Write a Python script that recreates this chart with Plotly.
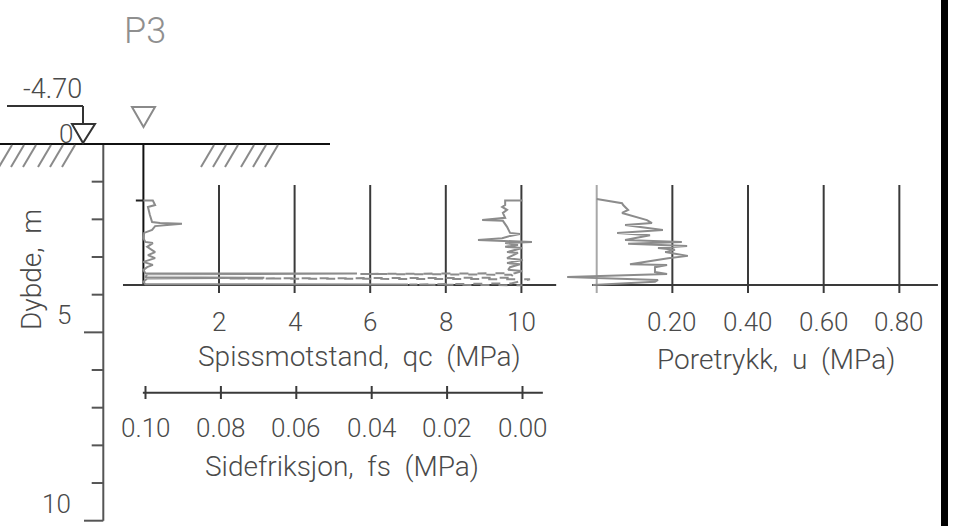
import plotly.graph_objects as go

W, H = 953, 526

# Cone resistance qc (MPa) against depth (m)
qc_depth = [1.50, 1.50, 1.62, 1.67, 1.88, 2.07, 2.10, 2.12, 2.18, 2.28, 2.36, 2.50, 2.60,
            2.63, 2.73, 2.87, 2.95, 3.03, 3.13, 3.21, 3.27, 3.34, 3.43, 3.44, 3.46, 3.54,
            3.55, 3.57, 3.66, 3.72, 3.73]
qc_value = [0.00, 0.25, 0.31, 0.12, 0.17, 0.23, 0.44, 1.02, 0.31, 0.23, 0.02, 0.00, 0.05,
            0.25, 0.10, 0.31, 0.12, 0.31, 0.00, 0.25, 0.10, 0.00, 0.05, 5.65, 0.10, 0.05,
            3.20, 0.10, 0.00, 0.05, 7.00]

# Sleeve friction fs (MPa), plotted on a reversed axis
fs_depth = [1.50, 1.50, 1.62, 1.67, 1.75, 1.83, 1.96, 2.02, 2.04, 2.20, 2.36, 2.39, 2.44,
            2.50, 2.55, 2.60, 2.63, 2.68, 2.73, 2.76, 2.87, 2.89, 3.03, 3.08, 3.16, 3.19,
            3.27, 3.34, 3.37]
fs_value = [0.0000, 0.0046, 0.0046, 0.0054, 0.0041, 0.0052, 0.0046, 0.0107, 0.0052, 0.0041,
            0.0033, 0.0007, 0.0033, 0.0054, 0.0118, -0.0025, 0.0046, 0.0012, 0.0046, 0.0001,
            0.0041, 0.0012, 0.0041, -0.0001, 0.0041, 0.0007, 0.0033, 0.0038, 0.0001]
# last part of the friction record (dashed)
fs_tail_depth = [3.37, 3.43, 3.45, 3.47, 3.55, 3.57, 3.59, 3.70, 3.73, 3.75]
fs_tail_value = [0.0001, 0.002, 0.043, 0.003, 0.002, 0.078, -0.002, 0.003, 0.030, 0.000]

# Pore pressure u (MPa)
u_depth = [1.46, 1.51, 1.57, 1.62, 1.75, 1.83, 1.96, 2.02, 2.10, 2.15, 2.28, 2.36, 2.42,
           2.55, 2.60, 2.65, 2.71, 2.76, 2.81, 2.87, 2.97, 3.03, 3.19, 3.21, 3.27, 3.40,
           3.45, 3.53, 3.56, 3.61, 3.66, 3.74]
u_value = [0.000, 0.030, 0.067, 0.070, 0.083, 0.067, 0.115, 0.133, 0.146, 0.075, 0.175,
           0.054, 0.141, 0.075, 0.225, 0.083, 0.239, 0.162, 0.207, 0.181, 0.241, 0.189,
           0.088, 0.186, 0.154, 0.154, 0.186, -0.078, 0.000, 0.162, 0.154, -0.010]

# Axis ticks and labels
qc_ticks = [2, 4, 6, 8, 10]
qc_labels = ["2", "4", "6", "8", "10"]
fs_ticks = [0.10, 0.08, 0.06, 0.04, 0.02, 0.00]
fs_labels = ["0.10", "0.08", "0.06", "0.04", "0.02", "0.00"]
u_ticks = [0.20, 0.40, 0.60, 0.80]
u_labels = ["0.20", "0.40", "0.60", "0.80"]
depth_ticks = list(range(1, 11))
depth_labels = {5: "5", 10: "10"}

title = "P3"
elevation = "-4.70"
end_depth = 3.74

qc_title = "Spissmotstand,  qc  (MPa)"
fs_title = "Sidefriksjon,  fs  (MPa)"
u_title = "Poretrykk,  u  (MPa)"
depth_title = "Dybde,  m"

# ---------------------------------------------------------------- styling
AX = "#3a3a3a"
DATA = "#8c8c8c"
TXT = "#4a4a4a"
num_font = dict(family="Roboto", size=26, color=TXT, weight=300)
lab_font = dict(family="Roboto", size=28, color=TXT, weight=300)

fig = go.Figure()

fig.add_trace(go.Scatter(x=qc_value, y=qc_depth, xaxis="x", yaxis="y", mode="lines",
                         line=dict(color=DATA, width=2), name="qc", hoverinfo="skip"))
fig.add_trace(go.Scatter(x=fs_value, y=fs_depth, xaxis="x3", yaxis="y", mode="lines",
                         line=dict(color=DATA, width=2), name="fs", hoverinfo="skip"))
fig.add_trace(go.Scatter(x=fs_tail_value, y=fs_tail_depth, xaxis="x3", yaxis="y", mode="lines",
                         line=dict(color=DATA, width=2, dash="dash"), name="fs",
                         hoverinfo="skip"))
fig.add_trace(go.Scatter(x=u_value, y=u_depth, xaxis="x2", yaxis="y", mode="lines",
                         line=dict(color=DATA, width=2), name="u", hoverinfo="skip"))

shapes = []
annotations = []


def seg(x0, y0, x1, y1, xref, yref, color=AX, width=2, dash="solid"):
    shapes.append(dict(type="line", x0=x0, y0=y0, x1=x1, y1=y1, xref=xref, yref=yref,
                       line=dict(color=color, width=width, dash=dash), layer="below"))


def text(x, y, s, xref, yref, font, xanchor="center", yanchor="middle", angle=0):
    annotations.append(dict(x=x, y=y, text=s, xref=xref, yref=yref, showarrow=False,
                            font=font, xanchor=xanchor, yanchor=yanchor, textangle=angle))


def spaced(s):
    return s.replace("  ", "&nbsp;&nbsp;")


# depth axis
seg(103.3, 0, 103.3, 10, "x4", "y", color="#555555")
for d in depth_ticks:
    seg(84 if d in depth_labels else 91.7, d, 103.3, d, "x4", "y", color="#555555")
    if d in depth_labels:
        text(73, d, depth_labels[d], "x4", "y", num_font, xanchor="right", yanchor="bottom")
text(31, 270, spaced(depth_title), "x4", "y4", lab_font, angle=-90)

# ground surface and hatching
seg(0, 0, 330, 0, "x4", "y", color="#111111", width=2)
for xt in [12, 24, 36, 51, 63, 75, 214, 226, 238, 254, 266, 278]:
    seg(xt, 145, xt - 13, 167, "x4", "y4", color="#8a8a8a", width=2)

# elevation marker
seg(7, 106, 83, 106, "x4", "y4", color="#333333", width=2)
seg(83, 106, 83, 124, "x4", "y4", color="#333333", width=2)
shapes.append(dict(type="path", path="M 72 124 L 95 124 L 83 143 Z", xref="x4", yref="y4",
                   line=dict(color="#333333", width=2), fillcolor="rgba(0,0,0,0)"))
text(52, 89, elevation, "x4", "y4", dict(num_font, size=27))
text(66, 134, "0", "x4", "y4", num_font)

# water level symbol above the sounding
shapes.append(dict(type="path", path="M 132 107 L 155 107 L 143.5 127 Z", xref="x4", yref="y4",
                   line=dict(color="#8a8a8a", width=2), fillcolor="rgba(0,0,0,0)"))
text(145, 31, title, "x4", "y4", dict(family="Roboto", size=36, color="#8f8f8f", weight=300))

# qc / fs panel frame
seg(0, 0, 0, end_depth, "x", "y", color="#111111", width=2)
seg(-0.2, qc_depth[0], 0, qc_depth[0], "x", "y", color="#222222", width=2)
seg(-0.54, end_depth, 10.92, end_depth, "x", "y")
for v, s in zip(qc_ticks, qc_labels):
    seg(v, 185, v, 293, "x", "y4")
    text(v, 322, s, "x", "y4", num_font)
text(359, 356, spaced(qc_title), "x4", "y4", lab_font)

seg(0.1007, 392.7, -0.0054, 392.7, "x3", "y4")
for v, s in zip(fs_ticks, fs_labels):
    seg(v, 386, v, 399, "x3", "y4")
    text(v, 428, s, "x3", "y4", num_font)
text(342, 466, spaced(fs_title), "x4", "y4", lab_font)

# pore pressure panel frame
seg(-0.012, end_depth, 0.902, end_depth, "x2", "y")
seg(0, 185, 0, 293, "x2", "y4", color="#a8a8a8")
for v, s in zip(u_ticks, u_labels):
    seg(v, 185, v, 293, "x2", "y4")
    text(v, 322, s, "x2", "y4", num_font)
text(776, 359, spaced(u_title), "x4", "y4", lab_font)

# sheet border on the right
shapes.append(dict(type="rect", x0=941, x1=948, y0=0, y1=H, xref="x4", yref="y4",
                   line=dict(width=0), fillcolor="#000000"))

# pixel-aligned scales: qc 37.8 px/MPa from x=143.4, depth 37.67 px/m from y=144
hidden = dict(visible=False, showgrid=False, zeroline=False, fixedrange=True)
fig.update_layout(
    width=W, height=H, autosize=False,
    margin=dict(l=0, r=0, t=0, b=0, pad=0),
    paper_bgcolor="white", plot_bgcolor="white",
    showlegend=False,
    xaxis=dict(range=[-143.4 / 37.8, (W - 143.4) / 37.8], domain=[0, 1], **hidden),
    xaxis2=dict(range=[-596.7 / 378.3, (W - 596.7) / 378.3], overlaying="x", anchor="y", **hidden),
    xaxis3=dict(range=[522.5 / 3770, (522.5 - W) / 3770], overlaying="x", anchor="y", **hidden),
    xaxis4=dict(range=[0, W], overlaying="x", anchor="y4", **hidden),
    yaxis=dict(range=[(H - 144) / 37.67, -144 / 37.67], domain=[0, 1], **hidden),
    yaxis4=dict(range=[H, 0], overlaying="y", anchor="x4", **hidden),
    shapes=shapes,
    annotations=annotations,
)

fig.write_html("out.html")
